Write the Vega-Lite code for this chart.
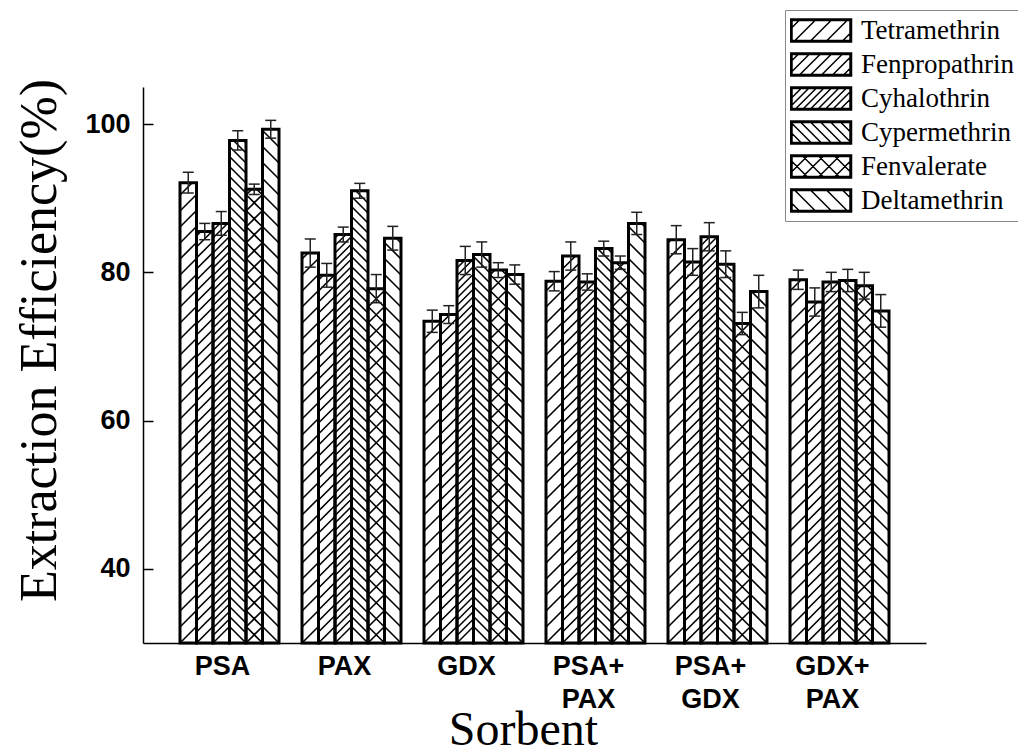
{
"$schema": "https://vega.github.io/schema/vega-lite/v6.json",
"width": 783, "height": 556,
"autosize": {"type": "none"},
"padding": {"left": 143, "top": 87, "right": 92, "bottom": 112},
"background": "white",
"config": {"view": {"stroke": null}, "font": "Liberation Sans"},
"resolve": {"axis": {"y": "independent"}},
"data": {"values": [
{"sorbent":"PSA","pesticide":"Tetramethrin","value":92.1,"lo":90.7,"hi":93.5},
{"sorbent":"PSA","pesticide":"Fenpropathrin","value":85.5,"lo":84.4,"hi":86.6},
{"sorbent":"PSA","pesticide":"Cyhalothrin","value":86.6,"lo":85.0,"hi":88.2},
{"sorbent":"PSA","pesticide":"Cypermethrin","value":97.8,"lo":96.5,"hi":99.1},
{"sorbent":"PSA","pesticide":"Fenvalerate","value":91.2,"lo":90.5,"hi":91.9},
{"sorbent":"PSA","pesticide":"Deltamethrin","value":99.3,"lo":98.1,"hi":100.5},
{"sorbent":"PAX","pesticide":"Tetramethrin","value":82.6,"lo":80.7,"hi":84.5},
{"sorbent":"PAX","pesticide":"Fenpropathrin","value":79.6,"lo":78.0,"hi":81.2},
{"sorbent":"PAX","pesticide":"Cyhalothrin","value":85.1,"lo":84.1,"hi":86.1},
{"sorbent":"PAX","pesticide":"Cypermethrin","value":91.0,"lo":90.0,"hi":92.0},
{"sorbent":"PAX","pesticide":"Fenvalerate","value":77.8,"lo":75.9,"hi":79.7},
{"sorbent":"PAX","pesticide":"Deltamethrin","value":84.6,"lo":83.0,"hi":86.2},
{"sorbent":"GDX","pesticide":"Tetramethrin","value":73.4,"lo":71.9,"hi":74.9},
{"sorbent":"GDX","pesticide":"Fenpropathrin","value":74.3,"lo":73.1,"hi":75.5},
{"sorbent":"GDX","pesticide":"Cyhalothrin","value":81.6,"lo":79.7,"hi":83.5},
{"sorbent":"GDX","pesticide":"Cypermethrin","value":82.4,"lo":80.7,"hi":84.1},
{"sorbent":"GDX","pesticide":"Fenvalerate","value":80.3,"lo":79.3,"hi":81.3},
{"sorbent":"GDX","pesticide":"Deltamethrin","value":79.7,"lo":78.4,"hi":81.0},
{"sorbent":"PSA+PAX","pesticide":"Tetramethrin","value":78.8,"lo":77.5,"hi":80.1},
{"sorbent":"PSA+PAX","pesticide":"Fenpropathrin","value":82.2,"lo":80.3,"hi":84.1},
{"sorbent":"PSA+PAX","pesticide":"Cyhalothrin","value":78.7,"lo":77.6,"hi":79.8},
{"sorbent":"PSA+PAX","pesticide":"Cypermethrin","value":83.2,"lo":82.2,"hi":84.2},
{"sorbent":"PSA+PAX","pesticide":"Fenvalerate","value":81.3,"lo":80.4,"hi":82.2},
{"sorbent":"PSA+PAX","pesticide":"Deltamethrin","value":86.6,"lo":85.1,"hi":88.1},
{"sorbent":"PSA+GDX","pesticide":"Tetramethrin","value":84.4,"lo":82.5,"hi":86.3},
{"sorbent":"PSA+GDX","pesticide":"Fenpropathrin","value":81.4,"lo":79.6,"hi":83.2},
{"sorbent":"PSA+GDX","pesticide":"Cyhalothrin","value":84.8,"lo":82.9,"hi":86.7},
{"sorbent":"PSA+GDX","pesticide":"Cypermethrin","value":81.1,"lo":79.3,"hi":82.9},
{"sorbent":"PSA+GDX","pesticide":"Fenvalerate","value":73.1,"lo":71.6,"hi":74.6},
{"sorbent":"PSA+GDX","pesticide":"Deltamethrin","value":77.4,"lo":75.2,"hi":79.6},
{"sorbent":"GDX+PAX","pesticide":"Tetramethrin","value":79.0,"lo":77.7,"hi":80.3},
{"sorbent":"GDX+PAX","pesticide":"Fenpropathrin","value":76.0,"lo":74.1,"hi":77.9},
{"sorbent":"GDX+PAX","pesticide":"Cyhalothrin","value":78.7,"lo":77.4,"hi":80.0},
{"sorbent":"GDX+PAX","pesticide":"Cypermethrin","value":78.9,"lo":77.4,"hi":80.4},
{"sorbent":"GDX+PAX","pesticide":"Fenvalerate","value":78.2,"lo":76.4,"hi":80.0},
{"sorbent":"GDX+PAX","pesticide":"Deltamethrin","value":74.8,"lo":72.6,"hi":77.0}
]},
"encoding": {
  "x": {"field": "sorbent", "type": "nominal",
    "scale": {"domain": ["PSA","PAX","GDX","PSA+PAX","PSA+GDX","GDX+PAX"], "paddingInner": 0.188525, "paddingOuter": 0.303279, "round": false},
    "axis": {"title": "Sorbent", "ticks": false, "labelAngle": 0, "labelPadding": 10, "labelOffset": -7, "labelFont": "Liberation Sans", "labelFontWeight": "bold", "labelFontSize": 27, "labelColor": "black", "labelLineHeight": 33,
      "labelExpr": "indexof(datum.label, '+') > 0 ? [slice(datum.label, 0, indexof(datum.label, '+') + 1), slice(datum.label, indexof(datum.label, '+') + 1)] : datum.label",
      "domainColor": "black", "domainWidth": 1.5,
      "titleFont": "Liberation Serif", "titleFontSize": 48, "titleFontWeight": "normal", "titleColor": "black", "titleX": 380, "titleY": 101, "titleBaseline": "alphabetic", "titleAlign": "center"}},
  "xOffset": {"field": "pesticide", "type": "nominal",
    "scale": {"domain": ["Tetramethrin","Fenpropathrin","Cyhalothrin","Cypermethrin","Fenvalerate","Deltamethrin"], "paddingInner": 0, "paddingOuter": 0, "round": false}}
},
"layer": [
{"transform": [{"filter": "datum.pesticide === 'Tetramethrin'"}],
 "mark": {"type": "point", "filled": false, "size": 4, "stroke": "black", "strokeWidth": 1.6, "opacity": 1, "strokeCap": "butt",
  "shape": "M-8.25,278l16.5,-16.5m-16.5,0.5l16.5,-16.5m-16.5,0.5l16.5,-16.5m-16.5,0.5l16.5,-16.5m-16.5,0.5l16.5,-16.5m-16.5,0.5l16.5,-16.5m-16.5,0.5l16.5,-16.5m-16.5,0.5l16.5,-16.5m-16.5,0.5l16.5,-16.5m-16.5,0.5l16.5,-16.5m-16.5,0.5l16.5,-16.5m-16.5,0.5l16.5,-16.5m-16.5,0.5l16.5,-16.5m-16.5,0.5l16.5,-16.5m-16.5,0.5l16.5,-16.5m-16.5,0.5l16.5,-16.5m-16.5,0.5l16.5,-16.5m-16.5,0.5l16.5,-16.5m-16.5,0.5l16.5,-16.5m-16.5,0.5l16.5,-16.5m-16.5,0.5l16.5,-16.5m-16.5,0.5l16.5,-16.5m-16.5,0.5l16.5,-16.5m-16.5,0.5l16.5,-16.5m-16.5,0.5l16.5,-16.5m-16.5,0.5l16.5,-16.5m-16.5,0.5l16.5,-16.5m-16.5,0.5l16.5,-16.5m-16.5,0.5l16.5,-16.5m-16.5,0.5l16.5,-16.5m-16.5,0.5l16.5,-16.5m-16.5,0.5l16.5,-16.5m-16.5,0.5l16.5,-16.5"},
 "encoding": {"y": {"datum": 67.5, "type": "quantitative", "scale": {"domain": [30, 105], "nice": false, "zero": false},
    "axis": {"orient": "left", "title": "Extraction Efficiency(%)", "values": [40, 60, 80, 100], "grid": false, "ticks": false, "tickSize": 0, "domainColor": "black", "domainWidth": 1.5,
      "labelFont": "Liberation Sans", "labelFontWeight": "bold", "labelFontSize": 27, "labelColor": "black", "labelPadding": 13,
      "titleFont": "Liberation Serif", "titleFontSize": 52, "titleFontWeight": "normal", "titleColor": "black", "titleX": -88, "titleY": 253, "titleBaseline": "alphabetic", "titleAlign": "center"}}}},
{"transform": [{"filter": "datum.pesticide === 'Fenpropathrin'"}],
 "mark": {"type": "point", "filled": false, "size": 4, "stroke": "black", "strokeWidth": 1.6, "opacity": 1, "strokeCap": "butt",
  "shape": "M-8.25,278l16.5,-16.5m-16.5,5.5l16.5,-16.5m-16.5,5.5l16.5,-16.5m-16.5,5.5l16.5,-16.5m-16.5,5.5l16.5,-16.5m-16.5,5.5l16.5,-16.5m-16.5,5.5l16.5,-16.5m-16.5,5.5l16.5,-16.5m-16.5,5.5l16.5,-16.5m-16.5,5.5l16.5,-16.5m-16.5,5.5l16.5,-16.5m-16.5,5.5l16.5,-16.5m-16.5,5.5l16.5,-16.5m-16.5,5.5l16.5,-16.5m-16.5,5.5l16.5,-16.5m-16.5,5.5l16.5,-16.5m-16.5,5.5l16.5,-16.5m-16.5,5.5l16.5,-16.5m-16.5,5.5l16.5,-16.5m-16.5,5.5l16.5,-16.5m-16.5,5.5l16.5,-16.5m-16.5,5.5l16.5,-16.5m-16.5,5.5l16.5,-16.5m-16.5,5.5l16.5,-16.5m-16.5,5.5l16.5,-16.5m-16.5,5.5l16.5,-16.5m-16.5,5.5l16.5,-16.5m-16.5,5.5l16.5,-16.5m-16.5,5.5l16.5,-16.5m-16.5,5.5l16.5,-16.5m-16.5,5.5l16.5,-16.5m-16.5,5.5l16.5,-16.5m-16.5,5.5l16.5,-16.5m-16.5,5.5l16.5,-16.5m-16.5,5.5l16.5,-16.5m-16.5,5.5l16.5,-16.5m-16.5,5.5l16.5,-16.5m-16.5,5.5l16.5,-16.5m-16.5,5.5l16.5,-16.5m-16.5,5.5l16.5,-16.5m-16.5,5.5l16.5,-16.5m-16.5,5.5l16.5,-16.5m-16.5,5.5l16.5,-16.5m-16.5,5.5l16.5,-16.5m-16.5,5.5l16.5,-16.5m-16.5,5.5l16.5,-16.5m-16.5,5.5l16.5,-16.5m-16.5,5.5l16.5,-16.5"},
 "encoding": {"y": {"datum": 67.5, "type": "quantitative", "scale": {"domain": [30, 105], "nice": false, "zero": false}, "axis": null}}},
{"transform": [{"filter": "datum.pesticide === 'Cyhalothrin'"}],
 "mark": {"type": "point", "filled": false, "size": 4, "stroke": "black", "strokeWidth": 1.5, "opacity": 1, "strokeCap": "butt",
  "shape": "M-8.25,278l16.5,-16.5m-16.5,9l16.5,-16.5m-16.5,9l16.5,-16.5m-16.5,9l16.5,-16.5m-16.5,9l16.5,-16.5m-16.5,9l16.5,-16.5m-16.5,9l16.5,-16.5m-16.5,9l16.5,-16.5m-16.5,9l16.5,-16.5m-16.5,9l16.5,-16.5m-16.5,9l16.5,-16.5m-16.5,9l16.5,-16.5m-16.5,9l16.5,-16.5m-16.5,9l16.5,-16.5m-16.5,9l16.5,-16.5m-16.5,9l16.5,-16.5m-16.5,9l16.5,-16.5m-16.5,9l16.5,-16.5m-16.5,9l16.5,-16.5m-16.5,9l16.5,-16.5m-16.5,9l16.5,-16.5m-16.5,9l16.5,-16.5m-16.5,9l16.5,-16.5m-16.5,9l16.5,-16.5m-16.5,9l16.5,-16.5m-16.5,9l16.5,-16.5m-16.5,9l16.5,-16.5m-16.5,9l16.5,-16.5m-16.5,9l16.5,-16.5m-16.5,9l16.5,-16.5m-16.5,9l16.5,-16.5m-16.5,9l16.5,-16.5m-16.5,9l16.5,-16.5m-16.5,9l16.5,-16.5m-16.5,9l16.5,-16.5m-16.5,9l16.5,-16.5m-16.5,9l16.5,-16.5m-16.5,9l16.5,-16.5m-16.5,9l16.5,-16.5m-16.5,9l16.5,-16.5m-16.5,9l16.5,-16.5m-16.5,9l16.5,-16.5m-16.5,9l16.5,-16.5m-16.5,9l16.5,-16.5m-16.5,9l16.5,-16.5m-16.5,9l16.5,-16.5m-16.5,9l16.5,-16.5m-16.5,9l16.5,-16.5m-16.5,9l16.5,-16.5m-16.5,9l16.5,-16.5m-16.5,9l16.5,-16.5m-16.5,9l16.5,-16.5m-16.5,9l16.5,-16.5m-16.5,9l16.5,-16.5m-16.5,9l16.5,-16.5m-16.5,9l16.5,-16.5m-16.5,9l16.5,-16.5m-16.5,9l16.5,-16.5m-16.5,9l16.5,-16.5m-16.5,9l16.5,-16.5m-16.5,9l16.5,-16.5m-16.5,9l16.5,-16.5m-16.5,9l16.5,-16.5m-16.5,9l16.5,-16.5m-16.5,9l16.5,-16.5m-16.5,9l16.5,-16.5m-16.5,9l16.5,-16.5"},
 "encoding": {"y": {"datum": 67.5, "type": "quantitative", "scale": {"domain": [30, 105], "nice": false, "zero": false}, "axis": null}}},
{"transform": [{"filter": "datum.pesticide === 'Cypermethrin'"}],
 "mark": {"type": "point", "filled": false, "size": 4, "stroke": "black", "strokeWidth": 1.6, "opacity": 1, "strokeCap": "butt",
  "shape": "M8.25,278l-16.5,-16.5m16.5,6.5l-16.5,-16.5m16.5,6.5l-16.5,-16.5m16.5,6.5l-16.5,-16.5m16.5,6.5l-16.5,-16.5m16.5,6.5l-16.5,-16.5m16.5,6.5l-16.5,-16.5m16.5,6.5l-16.5,-16.5m16.5,6.5l-16.5,-16.5m16.5,6.5l-16.5,-16.5m16.5,6.5l-16.5,-16.5m16.5,6.5l-16.5,-16.5m16.5,6.5l-16.5,-16.5m16.5,6.5l-16.5,-16.5m16.5,6.5l-16.5,-16.5m16.5,6.5l-16.5,-16.5m16.5,6.5l-16.5,-16.5m16.5,6.5l-16.5,-16.5m16.5,6.5l-16.5,-16.5m16.5,6.5l-16.5,-16.5m16.5,6.5l-16.5,-16.5m16.5,6.5l-16.5,-16.5m16.5,6.5l-16.5,-16.5m16.5,6.5l-16.5,-16.5m16.5,6.5l-16.5,-16.5m16.5,6.5l-16.5,-16.5m16.5,6.5l-16.5,-16.5m16.5,6.5l-16.5,-16.5m16.5,6.5l-16.5,-16.5m16.5,6.5l-16.5,-16.5m16.5,6.5l-16.5,-16.5m16.5,6.5l-16.5,-16.5m16.5,6.5l-16.5,-16.5m16.5,6.5l-16.5,-16.5m16.5,6.5l-16.5,-16.5m16.5,6.5l-16.5,-16.5m16.5,6.5l-16.5,-16.5m16.5,6.5l-16.5,-16.5m16.5,6.5l-16.5,-16.5m16.5,6.5l-16.5,-16.5m16.5,6.5l-16.5,-16.5m16.5,6.5l-16.5,-16.5m16.5,6.5l-16.5,-16.5m16.5,6.5l-16.5,-16.5m16.5,6.5l-16.5,-16.5m16.5,6.5l-16.5,-16.5m16.5,6.5l-16.5,-16.5m16.5,6.5l-16.5,-16.5m16.5,6.5l-16.5,-16.5m16.5,6.5l-16.5,-16.5m16.5,6.5l-16.5,-16.5m16.5,6.5l-16.5,-16.5m16.5,6.5l-16.5,-16.5"},
 "encoding": {"y": {"datum": 67.5, "type": "quantitative", "scale": {"domain": [30, 105], "nice": false, "zero": false}, "axis": null}}},
{"transform": [{"filter": "datum.pesticide === 'Fenvalerate'"}],
 "mark": {"type": "point", "filled": false, "size": 4, "stroke": "black", "strokeWidth": 1.6, "opacity": 1, "strokeCap": "butt",
  "shape": "M-8.25,278l16.5,-16.5m-16.5,0.5l16.5,-16.5m-16.5,0.5l16.5,-16.5m-16.5,0.5l16.5,-16.5m-16.5,0.5l16.5,-16.5m-16.5,0.5l16.5,-16.5m-16.5,0.5l16.5,-16.5m-16.5,0.5l16.5,-16.5m-16.5,0.5l16.5,-16.5m-16.5,0.5l16.5,-16.5m-16.5,0.5l16.5,-16.5m-16.5,0.5l16.5,-16.5m-16.5,0.5l16.5,-16.5m-16.5,0.5l16.5,-16.5m-16.5,0.5l16.5,-16.5m-16.5,0.5l16.5,-16.5m-16.5,0.5l16.5,-16.5m-16.5,0.5l16.5,-16.5m-16.5,0.5l16.5,-16.5m-16.5,0.5l16.5,-16.5m-16.5,0.5l16.5,-16.5m-16.5,0.5l16.5,-16.5m-16.5,0.5l16.5,-16.5m-16.5,0.5l16.5,-16.5m-16.5,0.5l16.5,-16.5m-16.5,0.5l16.5,-16.5m-16.5,0.5l16.5,-16.5m-16.5,0.5l16.5,-16.5m-16.5,0.5l16.5,-16.5m-16.5,0.5l16.5,-16.5m-16.5,0.5l16.5,-16.5m-16.5,0.5l16.5,-16.5m-16.5,0.5l16.5,-16.5M8.25,278l-16.5,-16.5m16.5,0.5l-16.5,-16.5m16.5,0.5l-16.5,-16.5m16.5,0.5l-16.5,-16.5m16.5,0.5l-16.5,-16.5m16.5,0.5l-16.5,-16.5m16.5,0.5l-16.5,-16.5m16.5,0.5l-16.5,-16.5m16.5,0.5l-16.5,-16.5m16.5,0.5l-16.5,-16.5m16.5,0.5l-16.5,-16.5m16.5,0.5l-16.5,-16.5m16.5,0.5l-16.5,-16.5m16.5,0.5l-16.5,-16.5m16.5,0.5l-16.5,-16.5m16.5,0.5l-16.5,-16.5m16.5,0.5l-16.5,-16.5m16.5,0.5l-16.5,-16.5m16.5,0.5l-16.5,-16.5m16.5,0.5l-16.5,-16.5m16.5,0.5l-16.5,-16.5m16.5,0.5l-16.5,-16.5m16.5,0.5l-16.5,-16.5m16.5,0.5l-16.5,-16.5m16.5,0.5l-16.5,-16.5m16.5,0.5l-16.5,-16.5m16.5,0.5l-16.5,-16.5m16.5,0.5l-16.5,-16.5m16.5,0.5l-16.5,-16.5m16.5,0.5l-16.5,-16.5m16.5,0.5l-16.5,-16.5m16.5,0.5l-16.5,-16.5m16.5,0.5l-16.5,-16.5"},
 "encoding": {"y": {"datum": 67.5, "type": "quantitative", "scale": {"domain": [30, 105], "nice": false, "zero": false}, "axis": null}}},
{"transform": [{"filter": "datum.pesticide === 'Deltamethrin'"}],
 "mark": {"type": "point", "filled": false, "size": 4, "stroke": "black", "strokeWidth": 1.6, "opacity": 1, "strokeCap": "butt",
  "shape": "M8.25,278l-16.5,-16.5m16.5,0.5l-16.5,-16.5m16.5,0.5l-16.5,-16.5m16.5,0.5l-16.5,-16.5m16.5,0.5l-16.5,-16.5m16.5,0.5l-16.5,-16.5m16.5,0.5l-16.5,-16.5m16.5,0.5l-16.5,-16.5m16.5,0.5l-16.5,-16.5m16.5,0.5l-16.5,-16.5m16.5,0.5l-16.5,-16.5m16.5,0.5l-16.5,-16.5m16.5,0.5l-16.5,-16.5m16.5,0.5l-16.5,-16.5m16.5,0.5l-16.5,-16.5m16.5,0.5l-16.5,-16.5m16.5,0.5l-16.5,-16.5m16.5,0.5l-16.5,-16.5m16.5,0.5l-16.5,-16.5m16.5,0.5l-16.5,-16.5m16.5,0.5l-16.5,-16.5m16.5,0.5l-16.5,-16.5m16.5,0.5l-16.5,-16.5m16.5,0.5l-16.5,-16.5m16.5,0.5l-16.5,-16.5m16.5,0.5l-16.5,-16.5m16.5,0.5l-16.5,-16.5m16.5,0.5l-16.5,-16.5m16.5,0.5l-16.5,-16.5m16.5,0.5l-16.5,-16.5m16.5,0.5l-16.5,-16.5m16.5,0.5l-16.5,-16.5m16.5,0.5l-16.5,-16.5"},
 "encoding": {"y": {"datum": 67.5, "type": "quantitative", "scale": {"domain": [30, 105], "nice": false, "zero": false}, "axis": null}}},
{"mark": {"type": "bar", "fill": "white", "stroke": "white", "strokeWidth": 2},
 "encoding": {"y": {"field": "value", "type": "quantitative", "scale": {"domain": [30, 105], "nice": false, "zero": false}, "axis": null}, "y2": {"datum": 105}}},
{"mark": {"type": "bar", "fill": "transparent", "stroke": "black", "strokeWidth": 3, "strokeJoin": "miter"},
 "encoding": {
  "y": {"field": "value", "type": "quantitative", "scale": {"domain": [30, 105], "nice": false, "zero": false},
    "axis": {"orient": "right", "offset": -783, "title": null, "values": [40, 60, 80, 100], "grid": false, "labels": false, "domain": false, "ticks": true, "tickSize": 10, "tickWidth": 1.5, "tickColor": "black"}},
  "y2": {"datum": 30}}},
{"mark": {"type": "rule", "color": "#222222", "strokeWidth": 1.5},
 "encoding": {"y": {"field": "lo", "type": "quantitative", "scale": {"domain": [30, 105], "nice": false, "zero": false}, "axis": null}, "y2": {"field": "hi"}}},
{"mark": {"type": "tick", "color": "#222222", "thickness": 1.5, "size": 11, "opacity": 1},
 "encoding": {"y": {"field": "hi", "type": "quantitative", "scale": {"domain": [30, 105], "nice": false, "zero": false}, "axis": null}}},
{"mark": {"type": "tick", "color": "#222222", "thickness": 1.5, "size": 11, "opacity": 1},
 "encoding": {"y": {"field": "lo", "type": "quantitative", "scale": {"domain": [30, 105], "nice": false, "zero": false}, "axis": null}}},
{"transform": [{"filter": "false"}],
 "mark": {"type": "point", "filled": false, "stroke": "black", "strokeWidth": 1.5, "opacity": 1, "size": 4},
 "encoding": {
  "y": {"field": "value", "type": "quantitative", "scale": {"domain": [30, 105], "nice": false, "zero": false}, "axis": null},
  "shape": {"field": "pesticide", "type": "nominal",
    "scale": {"domain": ["Tetramethrin","Fenpropathrin","Cyhalothrin","Cypermethrin","Fenvalerate","Deltamethrin"],
      "range": [
        "M-30.5,-11.5H30.5V11.5H-30.5ZM-29,-10H29V10H-29ZM-29,-3L-22,-10M-26,10L-6,-10M-10,10L10,-10M6,10L26,-10M22,10L29,3",
        "M-30.5,-11.5H30.5V11.5H-30.5ZM-29,-10H29V10H-29ZM-29,-4L-23,-10M-29,7L-12,-10M-21,10L-1,-10M-10,10L10,-10M1,10L21,-10M12,10L29,-7M23,10L29,4",
        "M-30.5,-11.5H30.5V11.5H-30.5ZM-29,-10H29V10H-29ZM-29,-1L-20,-10M-29,6.5L-12.5,-10M-25,10L-5,-10M-17.5,10L2.5,-10M-10,10L10,-10M-2.5,10L17.5,-10M5,10L25,-10M12.5,10L29,-6.5M20,10L29,1",
        "M-30.5,-11.5H30.5V11.5H-30.5ZM-29,-10H29V10H-29ZM20,-10L29,-1M10,-10L29,9M0,-10L20,10M-10,-10L10,10M-20,-10L0,10M-29,-9L-10,10M-29,1L-20,10",
        "M-30.5,-11.5H30.5V11.5H-30.5ZM-29,-10H29V10H-29ZM-29,5L-14,-10M-18,10L2,-10M-2,10L18,-10M14,10L29,-5M14,-10L29,5M-2,-10L18,10M-18,-10L2,10M-29,-5L-14,10",
        "M-30.5,-11.5H30.5V11.5H-30.5ZM-29,-10H29V10H-29ZM22,-10L29,-3M6,-10L26,10M-10,-10L10,10M-26,-10L-6,10M-29,3L-22,10"
      ]},
    "legend": {"title": null, "orient": "none", "legendX": 642, "legendY": -77, "padding": 5, "strokeColor": "#888888", "fillColor": "white",
      "symbolSize": 4, "symbolOffset": 17.5, "symbolStrokeWidth": 1.5, "symbolStrokeColor": "black", "symbolFillColor": "transparent", "symbolOpacity": 1,
      "clipHeight": 31, "rowPadding": 3, "labelOffset": 26.5, "labelLimit": 400,
      "labelFont": "Liberation Serif", "labelFontSize": 27, "labelColor": "black"}}
 }}
]
}
